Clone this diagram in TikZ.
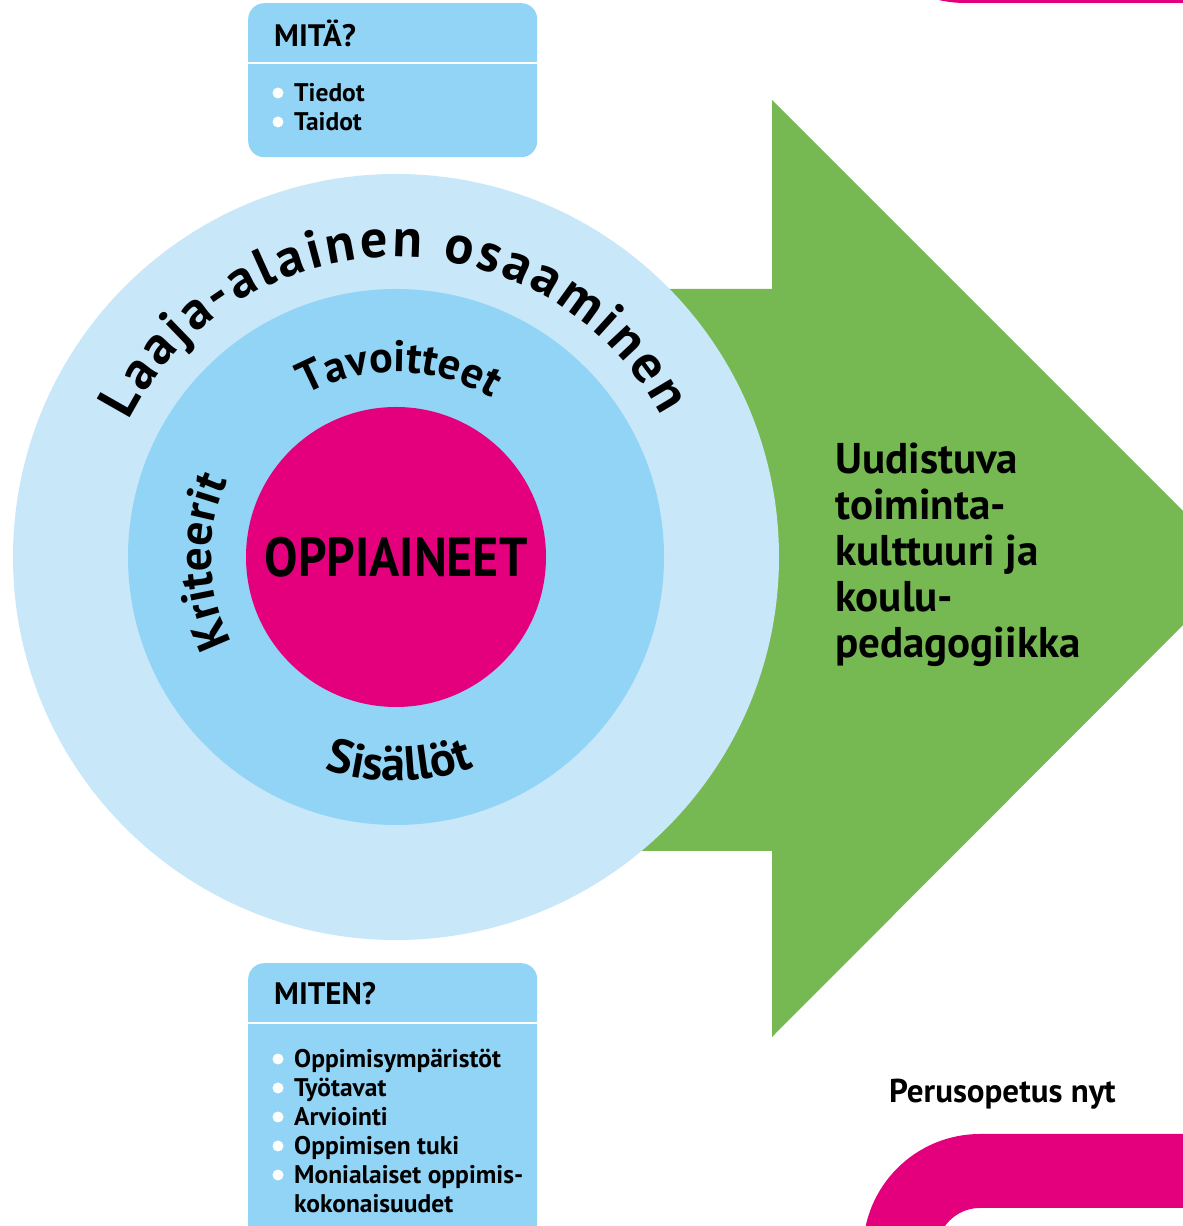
\documentclass[tikz,border=0pt]{standalone}
\usepackage{fontspec}
\setmainfont{PT Sans}
\usetikzlibrary{decorations.text,calc}
\definecolor{outerblue}{HTML}{C8E7F9}
\definecolor{midblue}{HTML}{92D4F5}
\definecolor{hotpink}{HTML}{E4007D}
\definecolor{leafgreen}{HTML}{76B852}
\begin{document}
\begin{tikzpicture}[x=1pt,y=1pt,
  boxbg/.style={fill=midblue,rounded corners=16,minimum width=289,inner sep=0,anchor=north west},
  headtxt/.style={anchor=base west,inner sep=0,font=\fontsize{31}{31}\selectfont\bfseries},
  itemtxt/.style={anchor=base west,inner sep=0,font=\fontsize{25.5}{26}\selectfont\bfseries},
  greentxt/.style={anchor=base west,inner sep=0,font=\fontsize{43}{46}\selectfont\bfseries},
  dot/.style={fill=white,circle,inner sep=0,minimum size=11},
  divider/.style={white,line width=2}]
\useasboundingbox (0,0) rectangle (1183,1226);
\coordinate (C) at (396,669);
\begin{scope}
\clip (0,0) rectangle (1183,1226);
% green arrow
\fill[leafgreen] (396,375) -- (772,375) -- (772,189) -- (1240,658) -- (772,1126) -- (772,937) -- (396,937) -- cycle;
% pink bands
\draw[hotpink,line width=74,rounded corners=80] (1260,55) -- (900,55) -- (900,-120);
\draw[hotpink,line width=74,rounded corners=80] (1260,1260) -- (885,1260) -- (885,1420);
% boxes
\node[boxbg,minimum height=154] (mita) at (248,1223) {};
\node[boxbg,minimum height=300] (miten) at (248,263) {};
\end{scope}
\draw[divider] (mita.west |- 0,1163) -- (mita.east |- 0,1163);
\draw[divider] (miten.west |- 0,203) -- (miten.east |- 0,203);
% box texts
\node[headtxt] (mitah) at (274,1179) {MITÄ?};
\node[dot] (d1) at (278,1133) {};
\node[itemtxt] (t1) at (294,1124) {Tiedot};
\node[dot] (d2) at (278,1104) {};
\node[itemtxt] (t2) at (294,1095) {Taidot};
\node[headtxt] (mitenh) at (274,221) {MITEN?};
\node[dot] (e1) at (278,167) {};
\node[itemtxt] (m1) at (294,158) {Oppimisympäristöt};
\node[dot] (e2) at (278,138) {};
\node[itemtxt] (m2) at (294,129) {Työtavat};
\node[dot] (e3) at (278,109) {};
\node[itemtxt] (m3) at (294,100) {Arviointi};
\node[dot] (e4) at (278,80) {};
\node[itemtxt] (m4) at (294,71) {Oppimisen tuki};
\node[dot] (e5) at (278,51) {};
\node[itemtxt] (m5) at (294,42) {Monialaiset oppimis-};
\node[itemtxt] (m6) at (294,13) {kokonaisuudet};
% circles
\fill[outerblue] (C) circle[radius=383];
\fill[midblue] (C) circle[radius=268];
\node[circle,fill=hotpink,minimum size=300,inner sep=0] (core) at (C) {};
\node[font=\fontsize{50}{50}\selectfont\bfseries,yscale=1.1] (coretxt) at (C) {OPPIAINEET};
% curved texts
\path[decorate,decoration={text along path,text align=fit to path,
  text={|\fontsize{54}{54}\selectfont\bfseries|Laaja-alainen osaaminen}}]
  ($(C)+(153:300)$) arc[start angle=153,end angle=28,radius=300];
\path[decorate,decoration={text along path,text align=center,
  text={|\fontsize{44}{44}\selectfont\bfseries|Tavoitteet}}]
  ($(C)+(179:185)$) arc[start angle=179,end angle=-1,radius=185];
\path[decorate,decoration={text along path,text align=center,
  text={|\fontsize{47}{47}\selectfont\bfseries|Kriteerit}}]
  ($(C)+(271:185)$) arc[start angle=271,end angle=92,radius=185];
\path[decorate,decoration={text along path,text align=center,
  text={|\fontsize{48}{48}\selectfont\bfseries|Sisällöt}}]
  ($(C)+(181:224)$) arc[start angle=181,end angle=361,radius=224];
% green text
\node[greentxt] (g1) at (835,752) {Uudistuva};
\node[greentxt] (g2) at (835,706) {toiminta-};
\node[greentxt] (g3) at (835,660) {kulttuuri ja};
\node[greentxt] (g4) at (835,614) {koulu-};
\node[greentxt] (g5) at (835,568) {pedagogiikka};
\node[anchor=base west,inner sep=0,font=\fontsize{33}{33}\selectfont\bfseries] (pn) at (889,123) {Perusopetus nyt};
\end{tikzpicture}
\end{document}
